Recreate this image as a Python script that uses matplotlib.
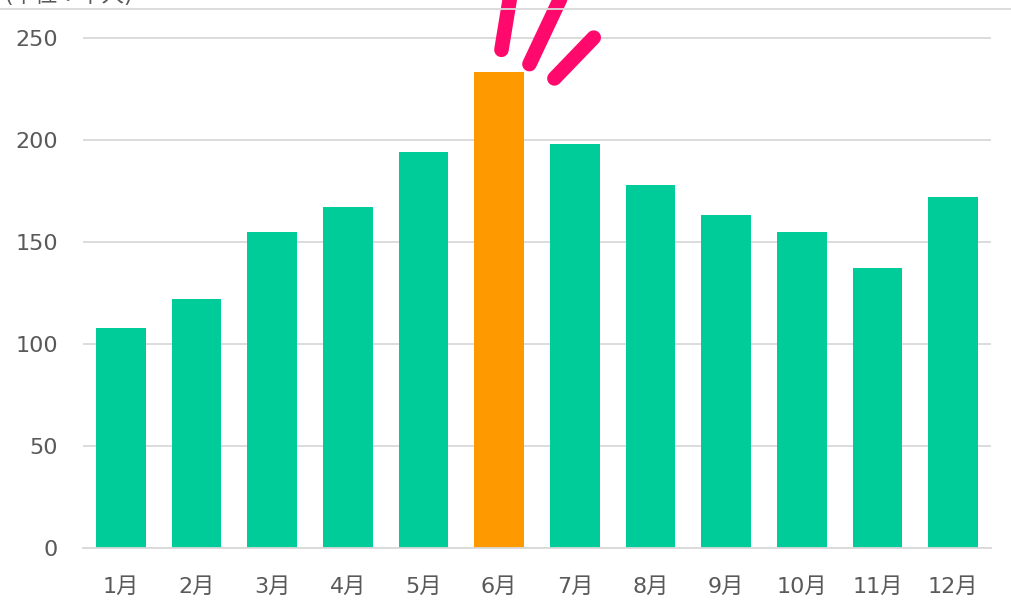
import matplotlib

matplotlib.use("Agg")
import matplotlib.pyplot as plt  # noqa: E402
from matplotlib.lines import Line2D  # noqa: E402

plt.rcParams["font.family"] = ["DejaVu Sans", "Noto Sans CJK JP"]

months = ["1月", "2月", "3月", "4月", "5月", "6月",
          "7月", "8月", "9月", "10月", "11月", "12月"]
values = [108, 122, 155, 167, 194, 233, 198, 178, 163, 155, 137, 172]
highlight = "6月"
yticks = [0, 50, 100, 150, 200, 250]

GREEN = "#00cc99"
ORANGE = "#ff9900"
PINK = "#ff0a6c"
GRID = "#d9d9d9"
TEXT = "#595959"

fig = plt.figure(figsize=(10.11, 6.16), dpi=100)
ax = fig.add_axes([83 / 1011, 1 - 548 / 616, 908 / 1011, 539 / 616])

x = list(range(len(months)))
colors = [ORANGE if m == highlight else GREEN for m in months]
ax.bar(x, values, width=0.66, color=colors, zorder=3)

ax.set_xlim(-0.5, len(months) - 0.5)
ax.set_ylim(0, 264)
ax.set_yticks(yticks)
ax.set_xticks(x)
ax.set_xticklabels(months)
ax.grid(axis="y", color=GRID, linewidth=1.3, zorder=0)
ax.tick_params(length=0, labelsize=16, labelcolor=TEXT)
ax.tick_params(axis="y", pad=18)
ax.tick_params(axis="x", pad=21)
for s in ["top", "right", "left"]:
    ax.spines[s].set_visible(False)
ax.spines["bottom"].set_color(GRID)
ax.spines["bottom"].set_linewidth(1.3)
ax.spines["bottom"].set_zorder(4)

# "pop" strokes above the highlighted bar (offsets from bar centre / top)
hi = months.index(highlight)
top = values[hi]
strokes = [((0.03, 11), (0.15, 38)),
           ((0.40, 4), (0.82, 37)),
           ((0.73, -3), (1.25, 17))]
for (dx0, dy0), (dx1, dy1) in strokes:
    ax.add_line(Line2D([hi + dx0, hi + dx1], [top + dy0, top + dy1],
                       color=PINK, linewidth=10.5, solid_capstyle="round",
                       clip_on=False, zorder=5))

# chart frame line and clipped unit label at the top
fig.add_artist(Line2D([0, 1], [1 - 9 / 616, 1 - 9 / 616],
                      color=GRID, linewidth=1.3, transform=fig.transFigure))
fig.text(0.004, 1 - 6 / 616, "(単位：千人)", fontsize=16, color=TEXT,
         ha="left", va="bottom")

fig.savefig("out.png", dpi=100)
